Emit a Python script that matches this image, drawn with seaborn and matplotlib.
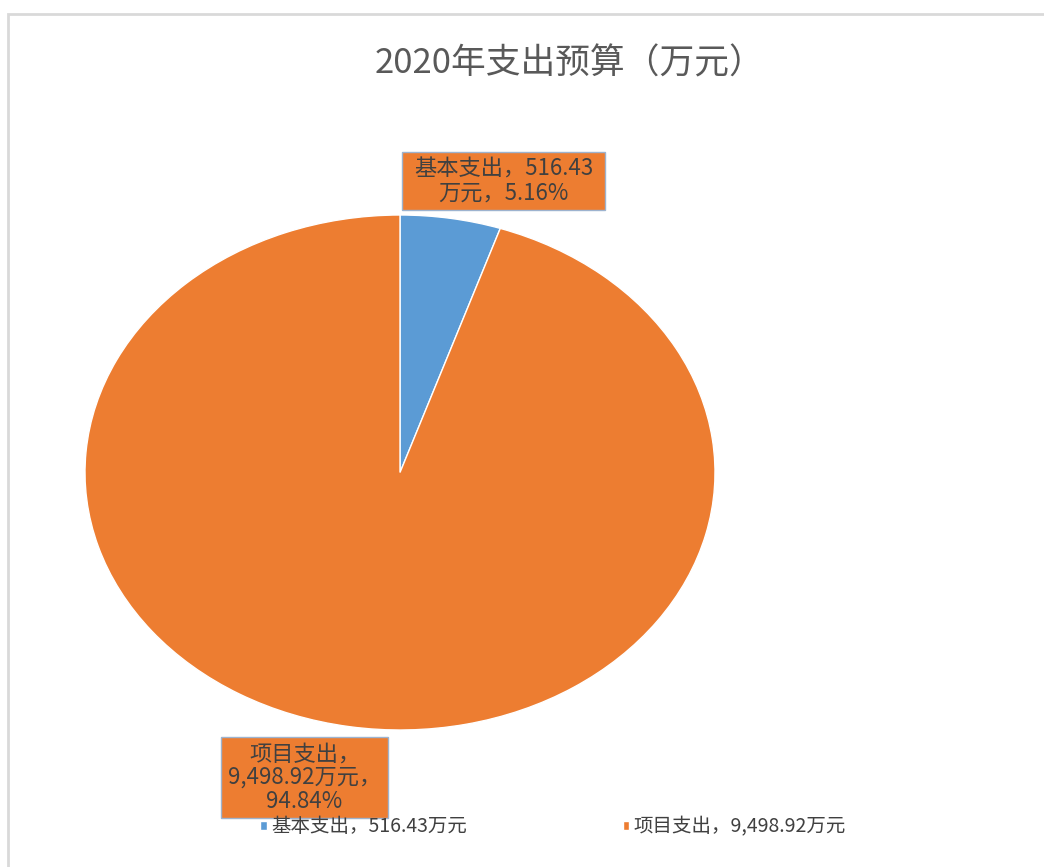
import matplotlib.pyplot as plt
import matplotlib.patches as mpatches
import seaborn as sns

categories = ["基本支出", "项目支出"]
values = [516.43, 9498.92]
colors = ["#5B9BD5", "#ED7D31"]
title = "2020年支出预算（万元）"

W, H = 1044, 867

def fx(x):
    return x / W

def fy(y):
    return 1 - y / H

sns.set_theme(style="white")
plt.rcParams['font.family'] = ['Noto Sans CJK SC', 'DejaVu Sans']

fig = plt.figure(figsize=(W / 100, H / 100), dpi=100)
fig.patch.set_facecolor("white")

# outer chart border (only top/left edges are visible in the crop)
fig.add_artist(mpatches.Rectangle((fx(8), fy(H + 20)), 1.2, fy(14) - fy(H + 20),
                                  transform=fig.transFigure, fill=False,
                                  edgecolor="#d9d9d9", lw=2))

# pie drawn in an axes box matching the stretched ellipse
ax = fig.add_axes([fx(85), fy(730), fx(715) - fx(85), fy(215) - fy(730)])
wedges, _ = ax.pie(values, colors=colors, startangle=90, counterclock=False,
                   radius=1, wedgeprops=dict(edgecolor="white", linewidth=1))
ax.set_aspect("auto")
ax.set_xlim(-1, 1)
ax.set_ylim(-1, 1)
ax.axis("off")

fig.text(fx(570), fy(64), title, ha="center", va="center", fontsize=25, color="#595959")

total = sum(values)
pcts = [v / total * 100 for v in values]
labels = [
    f"{categories[0]}，{values[0]:,.2f}\n万元，{pcts[0]:.2f}%",
    f"{categories[1]}，\n{values[1]:,.2f}万元，\n{pcts[1]:.2f}%",
]
boxes = [(402, 152, 605, 210), (221, 737, 388, 818)]
for lab, (x0, y0, x1, y1) in zip(labels, boxes):
    fig.add_artist(mpatches.Rectangle((fx(x0), fy(y1)), fx(x1) - fx(x0), fy(y0) - fy(y1),
                                      transform=fig.transFigure, facecolor="#ED7D31",
                                      edgecolor="#9DB3CF", lw=1))
    fig.text(fx((x0 + x1) / 2), fy((y0 + y1) / 2), lab, ha="center", va="center",
             fontsize=16, color="#404040", linespacing=1.05)

leg_labels = [f"{c}，{v:,.2f}万元" for c, v in zip(categories, values)]
leg = fig.legend(wedges, leg_labels, ncol=2, loc="center",
                 bbox_to_anchor=(fx(553), fy(827)), frameon=False,
                 handlelength=0.35, handleheight=0.35, handletextpad=0.2,
                 columnspacing=8, fontsize=14)
for t in leg.get_texts():
    t.set_color("#404040")

fig.savefig("out.png", dpi=100, facecolor="white")
